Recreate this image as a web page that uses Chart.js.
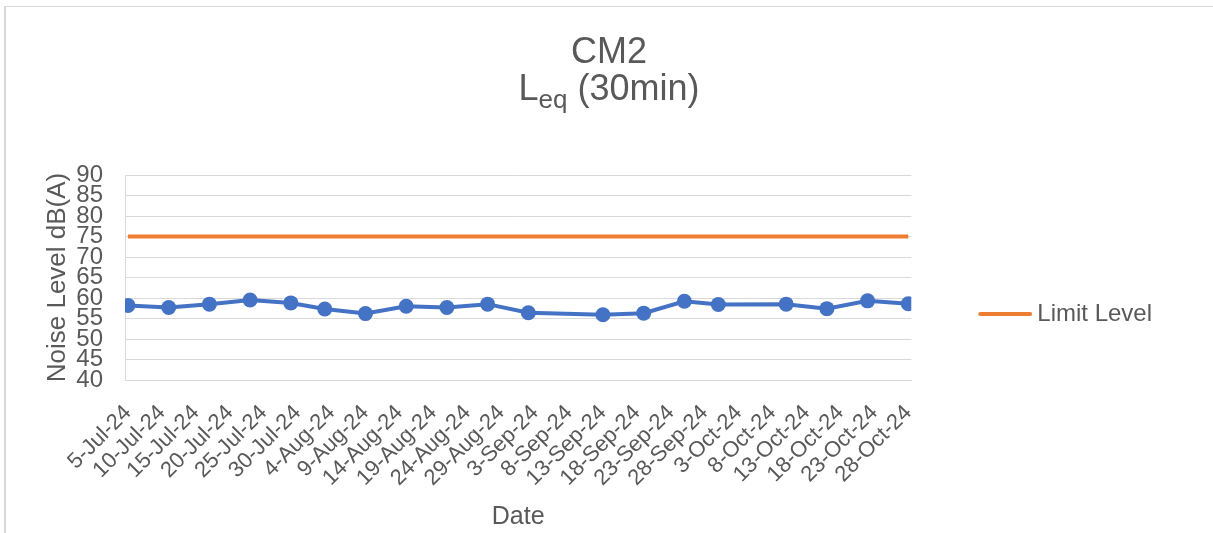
<!DOCTYPE html>
<html>
<head>
<meta charset="utf-8">
<script src="https://cdn.jsdelivr.net/npm/chart.js@4.4.1/dist/chart.umd.min.js"></script>
<style>
  html, body { margin: 0; padding: 0; background: #fff; overflow: hidden; }
  #wrap { position: relative; width: 1213px; height: 533px; }
  #frame { position: absolute; left: 4px; top: 6px; width: 1300px; height: 600px;
           border-left: 2px solid #d9d9d9; border-top: 1px solid #d9d9d9; }
  #title { position: absolute; left: 0; width: 1218px; top: 32px; text-align: center;
           font-family: "Liberation Sans", Arial, sans-serif; font-size: 36px; line-height: 37px; color: #595959; }
  #title sub { font-size: 26px; vertical-align: baseline; position: relative; top: 8px; }
  canvas { position: absolute; left: 0; top: 0; }
</style>
</head>
<body>
<div id="wrap">
  <div id="frame"></div>
  <canvas id="noiseChart" width="1213" height="533"></canvas>
  <div id="title"><div>CM2</div><div>L<sub>eq</sub> (30min)</div></div>
</div>
<script>
const startDate = '2024-07-05'

// date axis labels (every 5 days)
const tickDates = [
  '2024-07-05', '2024-07-10', '2024-07-15', '2024-07-20', '2024-07-25', '2024-07-30',
  '2024-08-04', '2024-08-09', '2024-08-14', '2024-08-19', '2024-08-24', '2024-08-29',
  '2024-09-03', '2024-09-08', '2024-09-13', '2024-09-18', '2024-09-23', '2024-09-28',
  '2024-10-03', '2024-10-08', '2024-10-13', '2024-10-18', '2024-10-23', '2024-10-28'
]

const dates = [
  '2024-07-05', '2024-07-11', '2024-07-17', '2024-07-23', '2024-07-29',
  '2024-08-03', '2024-08-09', '2024-08-15', '2024-08-21', '2024-08-27',
  '2024-09-02', '2024-09-13', '2024-09-19', '2024-09-25', '2024-09-30',
  '2024-10-10', '2024-10-16', '2024-10-22', '2024-10-28'
]
const noiseLevel = [
  58.2, 57.7, 58.5, 59.5, 58.8,
  57.3, 56.2, 58.0, 57.7, 58.5,
  56.4, 55.9, 56.3, 59.2, 58.4,
  58.5, 57.4, 59.3, 58.6
]

const limitDates = ['2024-07-05', '2024-10-28']
const limitLevel = [75, 75]

const yMin = 40
const yMax = 90

const months = ['Jan', 'Feb', 'Mar', 'Apr', 'May', 'Jun', 'Jul', 'Aug', 'Sep', 'Oct', 'Nov', 'Dec']
const DAY = 86400000

function dayOffset(d) {
  return (Date.parse(d) - Date.parse(startDate)) / DAY
}

function formatDay(offset) {
  const d = new Date(Date.parse(startDate) + Math.round(offset) * DAY)
  return d.getUTCDate() + '-' + months[d.getUTCMonth()] + '-' + String(d.getUTCFullYear()).slice(2)
}

function toPoints(xs, ys) {
  return xs.map((d, i) => ({ x: dayOffset(d), y: ys[i] }))
}

const tickOffsets = tickDates.map(dayOffset)

// legend swatch: short orange line
const swatch = document.createElement('canvas')
swatch.width = 74
swatch.height = 6
const sctx = swatch.getContext('2d')
sctx.strokeStyle = '#ED7D31'
sctx.lineWidth = 4
sctx.lineCap = 'round'
sctx.beginPath()
sctx.moveTo(22, 3)
sctx.lineTo(72, 3)
sctx.stroke()

const textColor = '#595959'
const gridColor = '#d9d9d9'
const font = 'Liberation Sans, Arial, sans-serif'

const ctx = document.getElementById('noiseChart').getContext('2d')
new Chart(ctx, {
  type: 'line',
  data: {
    datasets: [{
      label: 'Noise Level',
      data: toPoints(dates, noiseLevel),
      borderColor: '#4472C4',
      backgroundColor: '#4472C4',
      borderWidth: 4,
      pointRadius: 7.5,
      pointHoverRadius: 7.5,
      pointBorderWidth: 0,
      fill: false
    }, {
      label: 'Limit Level',
      data: toPoints(limitDates, limitLevel),
      borderColor: '#ED7D31',
      backgroundColor: '#ED7D31',
      borderWidth: 4,
      pointRadius: 0,
      fill: false
    }]
  },
  options: {
    responsive: false,
    animation: false,
    layout: { padding: { left: 5, top: 175, right: 51, bottom: 0 } },
    plugins: {
      tooltip: { enabled: false },
      legend: {
        position: 'right',
        align: 'end',
        fullSize: false,
        labels: {
          filter: item => item.datasetIndex === 1,
          usePointStyle: true,
          pointStyle: swatch,
          pointStyleWidth: 60,
          padding: 54,
          color: textColor,
          font: { family: font, size: 24 }
        }
      }
    },
    scales: {
      x: {
        type: 'linear',
        min: tickOffsets[0] - 0.44,
        max: tickOffsets[tickOffsets.length - 1] + 0.44,
        afterBuildTicks: scale => { scale.ticks = tickOffsets.map(v => ({ value: v })) },
        afterFit: scale => { scale.height = 153 },
        grid: { display: false, drawTicks: false },
        border: { display: true, color: gridColor, width: 1 },
        ticks: {
          autoSkip: false,
          maxRotation: 45,
          minRotation: 45,
          padding: 20,
          color: textColor,
          font: { family: font, size: 22 },
          callback: value => formatDay(value)
        },
        title: {
          display: true,
          text: 'Date',
          color: textColor,
          font: { family: font, size: 25 },
          padding: { top: 0, bottom: 1 }
        }
      },
      y: {
        min: yMin,
        max: yMax,
        afterFit: scale => { scale.width = 120 },
        grid: { color: gridColor, lineWidth: 1, drawTicks: false },
        border: { display: true, color: gridColor, width: 1 },
        ticks: {
          count: 11,
          autoSkip: false,
          padding: 22,
          color: textColor,
          font: { family: font, size: 24, lineHeight: 1 }
        },
        title: {
          display: true,
          text: 'Noise Level dB(A)',
          color: textColor,
          font: { family: font, size: 26 },
          padding: { top: 37, bottom: 0 }
        }
      }
    }
  }
})
</script>
</body>
</html>
